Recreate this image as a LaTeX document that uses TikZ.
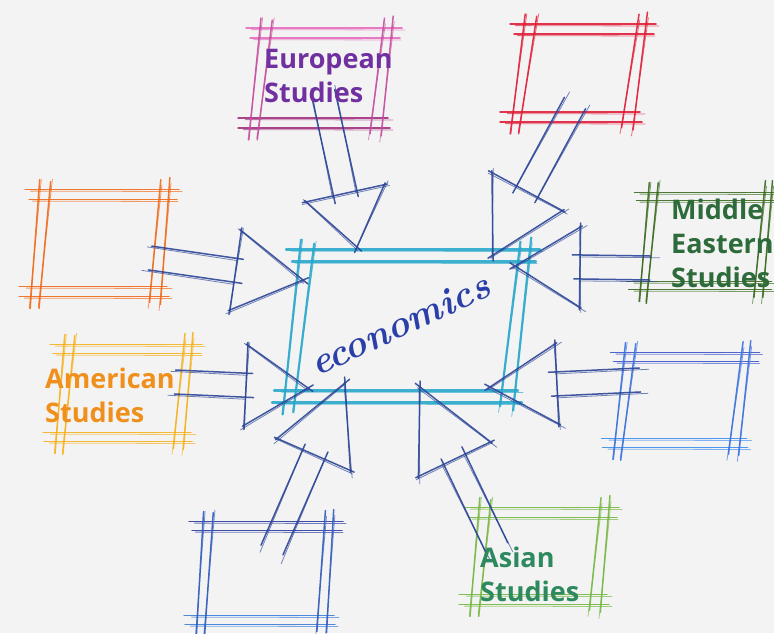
\documentclass[tikz,border=0pt]{standalone}
\usepackage{fontspec}
\newfontfamily\labelfont{Open Sans}
\usetikzlibrary{calc}
\definecolor{bg}{HTML}{F3F3F3}
\definecolor{arrowc}{HTML}{2B4596}
\definecolor{eutop}{HTML}{E66DBE}
\definecolor{eubot}{HTML}{A3307F}
\definecolor{eutext}{HTML}{7030A0}
\definecolor{rdc}{HTML}{E0203A}
\definecolor{orc}{HTML}{F06A1A}
\definecolor{mec}{HTML}{3A6B20}
\definecolor{metext}{HTML}{2E6B3B}
\definecolor{amc}{HTML}{F6B21E}
\definecolor{amtext}{HTML}{F0901C}
\definecolor{brtop}{HTML}{3D55C8}
\definecolor{brbot}{HTML}{3C8EEF}
\definecolor{bltop}{HTML}{2A3CA0}
\definecolor{blbot}{HTML}{3A7ED8}
\definecolor{asc}{HTML}{76B843}
\definecolor{astext}{HTML}{2E8A5E}
\definecolor{ecc}{HTML}{2AA8CC}
\definecolor{econ}{HTML}{2A40A8}

\tikzset{
  skmain/.style={line width=1.5pt, line cap=round, opacity=.9},
  skthin/.style={line width=.8pt, line cap=round, opacity=.65},
  framenode/.style={draw=none, rectangle, inner sep=0pt, outer sep=0pt},
  lbl/.style={font=\labelfont\bfseries\fontsize{27}{34}\selectfont, align=left, inner sep=0pt, anchor=north west},
}

% sketchy line: colour, A, B, extension at A, extension at B
\newcommand\skline[5]{%
  \draw[skmain,#1] ($(#2)!-#4pt!(#3)$) -- ($(#3)!-#5pt!(#2)$);
  \draw[skthin,#1] ($(#2)!-#5pt!(#3)+(1.4,1.6)$) -- ($(#3)!-#4pt!(#2)+(-1.0,2.0)$);
}

% sketchy frame round a node: node, skew, top colour, bottom colour, inner offset
\newcommand\sketchframe[5]{%
  \coordinate (#1-a) at ($(#1.north west)+(#2,0)$);
  \coordinate (#1-b) at ($(#1.north east)+(#2,0)$);
  \coordinate (#1-c) at ($(#1.south east)+(-#2,0)$);
  \coordinate (#1-d) at ($(#1.south west)+(-#2,0)$);
  \coordinate (#1-ia) at ($(#1-a)+(#5,#5)$);
  \coordinate (#1-ib) at ($(#1-b)+(-#5,#5)$);
  \coordinate (#1-ic) at ($(#1-c)+(-#5,-#5)$);
  \coordinate (#1-id) at ($(#1-d)+(#5,-#5)$);
  \skline{#3}{#1-a}{#1-b}{14}{10}
  \skline{#3}{#1-ia}{#1-ib}{20}{18}
  \skline{#4}{#1-d}{#1-c}{12}{8}
  \skline{#4}{#1-id}{#1-ic}{22}{16}
  \skline{#3!50!#4}{#1-a}{#1-d}{10}{12}
  \skline{#3!50!#4}{#1-ia}{#1-id}{18}{22}
  \skline{#3!50!#4}{#1-b}{#1-c}{12}{8}
  \skline{#3!50!#4}{#1-ib}{#1-ic}{20}{16}
}

% sketchy block arrow: tail, tip, name, head length
\newcommand\sketcharrow[4]{%
  \coordinate (#3-hb) at ($(#2)!#4pt!(#1)$);
  \coordinate (#3-h1) at ($(#3-hb)!40pt!90:(#2)$);
  \coordinate (#3-h2) at ($(#3-hb)!40pt!-90:(#2)$);
  \coordinate (#3-s1) at ($(#3-hb)!12pt!90:(#2)$);
  \coordinate (#3-s2) at ($(#3-hb)!12pt!-90:(#2)$);
  \coordinate (#3-t1) at ($(#1)!12pt!90:(#2)$);
  \coordinate (#3-t2) at ($(#1)!12pt!-90:(#2)$);
  \skline{arrowc}{#3-t1}{#3-s1}{0}{6}
  \skline{arrowc}{#3-t2}{#3-s2}{0}{8}
  \skline{arrowc}{#3-h1}{#3-h2}{3}{4}
  \skline{arrowc}{#3-h1}{#2}{2}{6}
  \skline{arrowc}{#3-h2}{#2}{2}{6}
}

\begin{document}
\begin{tikzpicture}[x=1pt,y=-1pt]
\fill[bg] (0,0) rectangle (774,633);
\useasboundingbox (0,0) rectangle (774,633);

% box nodes
\node[framenode, minimum width=132pt, minimum height=100pt] (eu) at (321,78) {};
\node[framenode, minimum width=122pt, minimum height=98pt] (rd) at (579,73) {};
\node[framenode, minimum width=130pt, minimum height=107pt] (or) at (100,243) {};
\node[framenode, minimum width=123pt, minimum height=97pt] (me) at (706,241) {};
\node[framenode, minimum width=128pt, minimum height=97pt] (am) at (124,393) {};
\node[framenode, minimum width=125pt, minimum height=95pt] (br) at (682,400) {};
\node[framenode, minimum width=130pt, minimum height=103pt] (bl) at (265,573) {};
\node[framenode, minimum width=130pt, minimum height=97pt] (as) at (540,556) {};
\node[framenode, minimum width=230pt, minimum height=153pt] (ec) at (407,326) {};

\sketchframe{eu}{5}{eutop}{eubot}{10}
\sketchframe{rd}{6}{rdc}{rdc}{10}
\sketchframe{or}{4}{orc}{orc}{10}
\sketchframe{me}{4}{mec}{mec}{8}
\sketchframe{am}{4}{amc}{amc}{9}
\sketchframe{br}{5}{brtop}{brbot}{9}
\sketchframe{bl}{3}{bltop}{blbot}{9}
\sketchframe{as}{4}{asc}{asc}{10}
\begin{scope}[skmain/.append style={line width=2.2pt}]
\sketchframe{ec}{8}{ecc}{ecc}{12}
\end{scope}

% arrow ends
\coordinate (eu-tail) at (323,92);   \coordinate (eu-tip) at (357,247);
\coordinate (rd-tail) at (575,103);  \coordinate (rd-tip) at (493,255);
\coordinate (or-tail) at (150,258);  \coordinate (or-tip) at (303,280);
\coordinate (me-tail) at (650,268);  \coordinate (me-tip) at (515,266);
\coordinate (am-tail) at (175,382);  \coordinate (am-tip) at (308,388);
\coordinate (br-tail) at (640,380);  \coordinate (br-tip) at (490,387);
\coordinate (bl-tail) at (272,550);  \coordinate (bl-tip) at (345,383);
\coordinate (as-tail) at (497,548);  \coordinate (as-tip) at (420,387);

\sketcharrow{eu-tail}{eu-tip}{eua}{55}
\sketcharrow{rd-tail}{rd-tip}{rda}{72}
\sketcharrow{or-tail}{or-tip}{ora}{68}
\sketcharrow{me-tail}{me-tip}{mea}{65}
\sketcharrow{am-tail}{am-tip}{ama}{62}
\sketcharrow{br-tail}{br-tip}{bra}{67}
\sketcharrow{bl-tail}{bl-tip}{bla}{78}
\sketcharrow{as-tail}{as-tip}{asa}{80}

% labels
\node[lbl, text=eutext] (eut) at (264,49) {European\\Studies};
\node[lbl, text=metext] (met) at (671,199) {Middle\\Eastern\\Studies};
\node[lbl, text=amtext] (amt) at (45,368) {American\\Studies};
\node[lbl, text=astext] (ast) at (480,547) {Asian\\Studies};
\node[rotate=25, anchor=base, inner sep=0pt, text=econ, font=\bfseries\itshape\fontsize{38}{38}\selectfont] (ect) at (405,336) {economics};
\end{tikzpicture}
\end{document}
